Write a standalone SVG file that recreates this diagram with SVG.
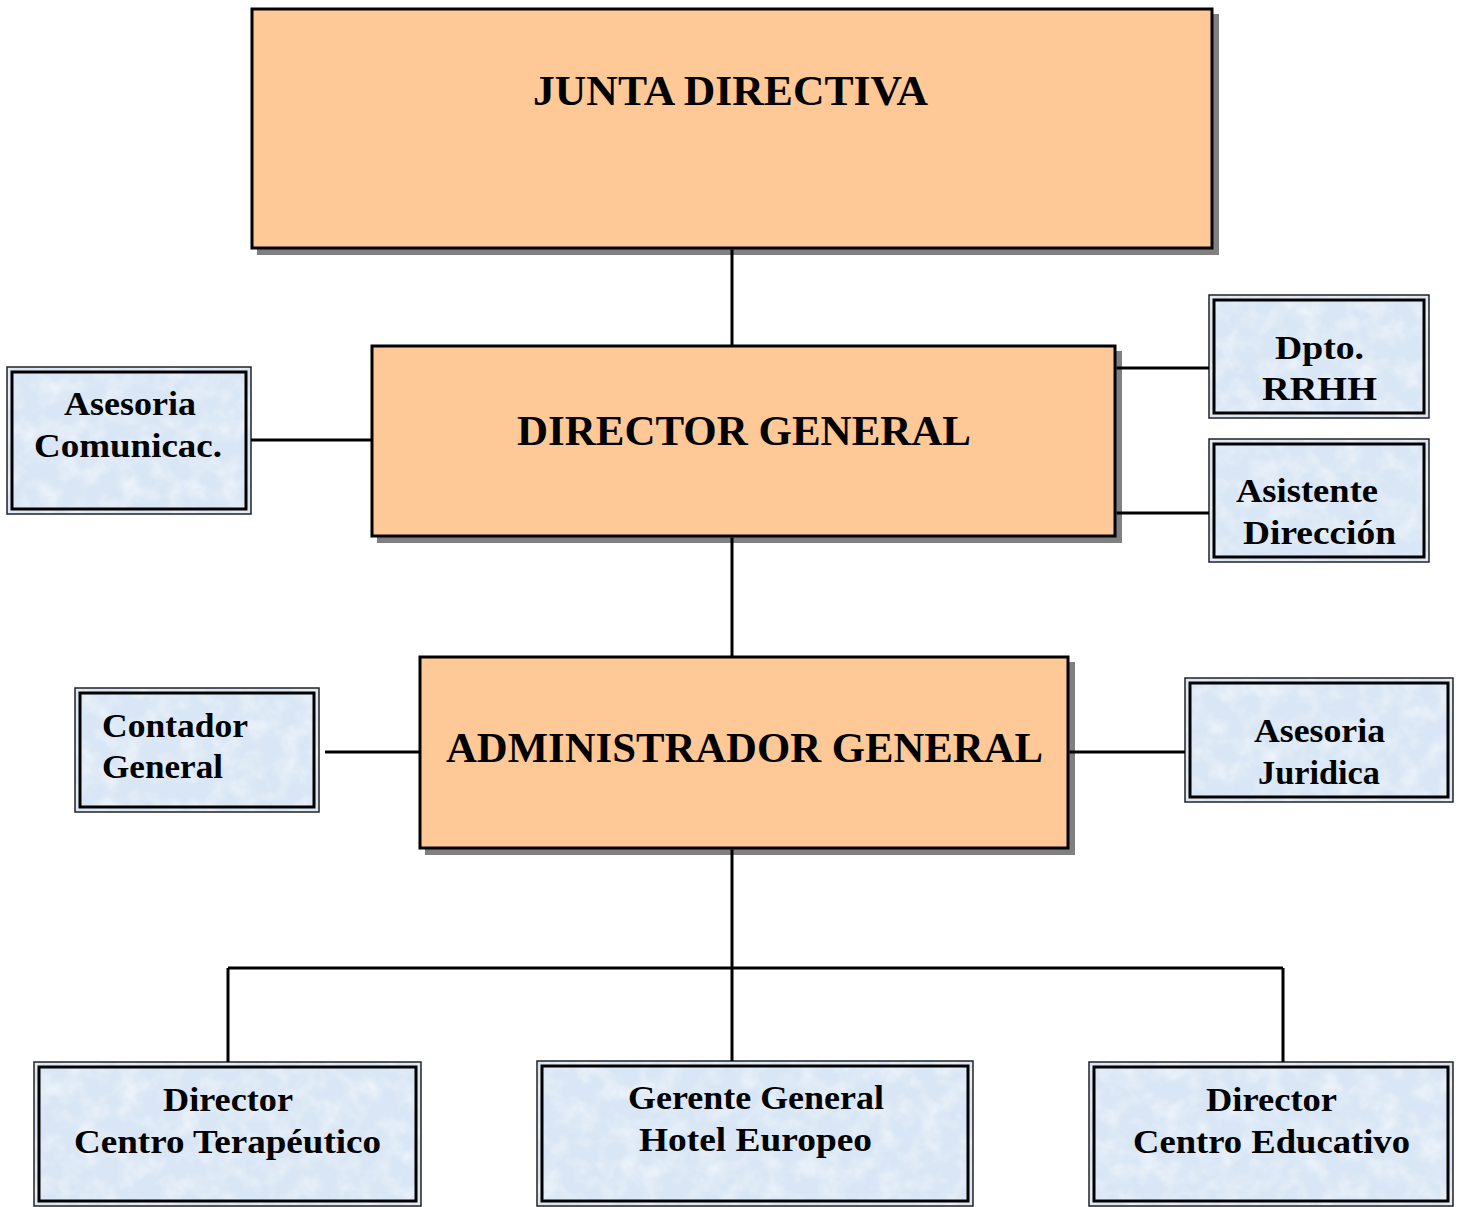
<svg xmlns="http://www.w3.org/2000/svg" width="1464" height="1207" viewBox="0 0 1464 1207">
<style>
.shadow{fill:#808080}
.main{fill:#ffc997;stroke:#000;stroke-width:3}
.bfill{fill:#d9e6f5}
.outer{fill:none;stroke:#222;stroke-width:1.5}
.inner{fill:none;stroke:#000;stroke-width:3}
.t{font-family:"Liberation Serif","Times New Roman",serif;font-weight:bold;fill:#000}
.big{font-size:42px}
.sm{font-size:33px}
.conn{fill:none;stroke:#000;stroke-width:3}
</style>
<defs>
<filter id="tex" x="0" y="0" width="100%" height="100%">
<feTurbulence type="fractalNoise" baseFrequency="0.05" numOctaves="3" seed="7" result="n"/>
<feColorMatrix in="n" type="matrix" values="0 0 0 0 1  0 0 0 0 1  0 0 0 0 1  1.1 0 0 0 -0.45" result="w"/>
<feComposite in="w" in2="SourceGraphic" operator="in"/>
</filter>
</defs>
<rect width="1464" height="1207" fill="#fff"/>
<g id="junta">
<rect class="shadow" x="257" y="14" width="962" height="241"/>
<rect class="main" x="252" y="9" width="960" height="239"/>
<text class="t big" x="533" y="105" textLength="395" lengthAdjust="spacingAndGlyphs">JUNTA DIRECTIVA</text>
</g>
<g id="director">
<rect class="shadow" x="377" y="351" width="745" height="192"/>
<rect class="main" x="372" y="346" width="743" height="190"/>
<text class="t big" x="517" y="445" textLength="454" lengthAdjust="spacingAndGlyphs">DIRECTOR GENERAL</text>
</g>
<g id="admin">
<rect class="shadow" x="425" y="662" width="650" height="193"/>
<rect class="main" x="420" y="657" width="648" height="191"/>
<text class="t big" x="446" y="762" textLength="597" lengthAdjust="spacingAndGlyphs">ADMINISTRADOR GENERAL</text>
</g>
<g id="asesoria-com">
<rect class="bfill" x="7" y="367" width="244" height="147"/>
<rect fill="#fff" filter="url(#tex)" x="7" y="367" width="244" height="147"/>
<rect class="outer" x="7" y="367" width="244" height="147"/>
<rect class="inner" x="12" y="372" width="234" height="137"/>
<text class="t sm" x="64" y="415" textLength="132" lengthAdjust="spacingAndGlyphs">Asesoria</text>
<text class="t sm" x="34" y="457" textLength="188" lengthAdjust="spacingAndGlyphs">Comunicac.</text>
</g>
<g id="rrhh">
<rect class="bfill" x="1209" y="295" width="220" height="123"/>
<rect fill="#fff" filter="url(#tex)" x="1209" y="295" width="220" height="123"/>
<rect class="outer" x="1209" y="295" width="220" height="123"/>
<rect class="inner" x="1214" y="300" width="210" height="113"/>
<text class="t sm" x="1275" y="359" textLength="89" lengthAdjust="spacingAndGlyphs">Dpto.</text>
<text class="t sm" x="1262" y="400" textLength="115" lengthAdjust="spacingAndGlyphs">RRHH</text>
</g>
<g id="asistente">
<rect class="bfill" x="1209" y="439" width="220" height="123"/>
<rect fill="#fff" filter="url(#tex)" x="1209" y="439" width="220" height="123"/>
<rect class="outer" x="1209" y="439" width="220" height="123"/>
<rect class="inner" x="1214" y="444" width="210" height="113"/>
<text class="t sm" x="1236" y="502" textLength="142" lengthAdjust="spacingAndGlyphs">Asistente</text>
<text class="t sm" x="1243" y="544" textLength="153" lengthAdjust="spacingAndGlyphs">Dirección</text>
</g>
<g id="contador">
<rect class="bfill" x="75" y="688" width="244" height="124"/>
<rect fill="#fff" filter="url(#tex)" x="75" y="688" width="244" height="124"/>
<rect class="outer" x="75" y="688" width="244" height="124"/>
<rect class="inner" x="80" y="693" width="234" height="114"/>
<text class="t sm" x="102" y="737" textLength="146" lengthAdjust="spacingAndGlyphs">Contador</text>
<text class="t sm" x="102" y="778" textLength="121" lengthAdjust="spacingAndGlyphs">General</text>
</g>
<g id="juridica">
<rect class="bfill" x="1185" y="678" width="268" height="124"/>
<rect fill="#fff" filter="url(#tex)" x="1185" y="678" width="268" height="124"/>
<rect class="outer" x="1185" y="678" width="268" height="124"/>
<rect class="inner" x="1190" y="683" width="258" height="114"/>
<text class="t sm" x="1254" y="742" textLength="131" lengthAdjust="spacingAndGlyphs">Asesoria</text>
<text class="t sm" x="1258" y="784" textLength="122" lengthAdjust="spacingAndGlyphs">Juridica</text>
</g>
<g id="terapeutico">
<rect class="bfill" x="34" y="1062" width="387" height="144"/>
<rect fill="#fff" filter="url(#tex)" x="34" y="1062" width="387" height="144"/>
<rect class="outer" x="34" y="1062" width="387" height="144"/>
<rect class="inner" x="39" y="1067" width="377" height="134"/>
<text class="t sm" x="163" y="1111" textLength="130" lengthAdjust="spacingAndGlyphs">Director</text>
<text class="t sm" x="74" y="1153" textLength="307" lengthAdjust="spacingAndGlyphs">Centro Terapéutico</text>
</g>
<g id="gerente">
<rect class="bfill" x="537" y="1061" width="436" height="145"/>
<rect fill="#fff" filter="url(#tex)" x="537" y="1061" width="436" height="145"/>
<rect class="outer" x="537" y="1061" width="436" height="145"/>
<rect class="inner" x="542" y="1066" width="426" height="135"/>
<text class="t sm" x="628" y="1109" textLength="256" lengthAdjust="spacingAndGlyphs">Gerente General</text>
<text class="t sm" x="639" y="1151" textLength="233" lengthAdjust="spacingAndGlyphs">Hotel Europeo</text>
</g>
<g id="educativo">
<rect class="bfill" x="1089" y="1062" width="364" height="144"/>
<rect fill="#fff" filter="url(#tex)" x="1089" y="1062" width="364" height="144"/>
<rect class="outer" x="1089" y="1062" width="364" height="144"/>
<rect class="inner" x="1094" y="1067" width="354" height="134"/>
<text class="t sm" x="1206" y="1111" textLength="131" lengthAdjust="spacingAndGlyphs">Director</text>
<text class="t sm" x="1133" y="1153" textLength="277" lengthAdjust="spacingAndGlyphs">Centro Educativo</text>
</g>
<g id="connectors">
<path class="conn" d="M732 249.5V345M732 537.5V656M732 849.5V1061M228 968H1283M228 968V1062M1283 968V1062M251 440H371M1116.5 368H1209M1116.5 513H1209M325 752H419M1069.5 752H1185"/>
</g>
</svg>
